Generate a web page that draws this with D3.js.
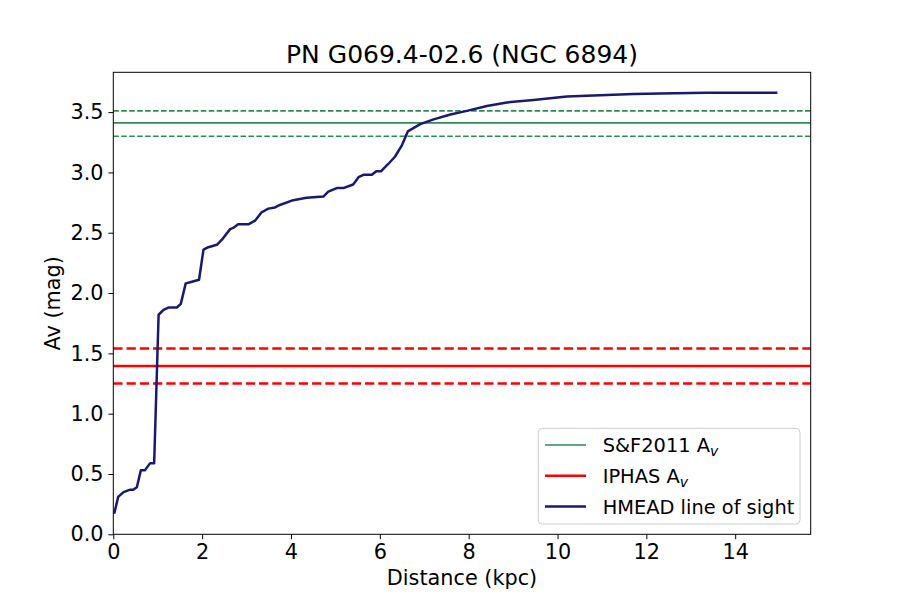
<!DOCTYPE html>
<html>
<head>
<meta charset="utf-8">
<script src="https://cdn.jsdelivr.net/npm/d3@7"></script>
<style>
  body { margin: 0; background: #fff; }
  svg { font-family: "DejaVu Sans", sans-serif; }
</style>
</head>
<body>
<div id="main-container"></div>
<script>
// HMEAD line of sight (distance in kpc, Av in mag)
var distance = [0.02, 0.11, 0.23, 0.38, 0.45, 0.53, 0.62, 0.71, 0.83, 0.92,
                1.02, 1.13, 1.24, 1.43, 1.52, 1.63, 1.73, 1.93, 2.03, 2.14,
                2.33, 2.44, 2.63, 2.70, 2.81, 3.04, 3.19, 3.34, 3.49, 3.64,
                3.75, 4.05, 4.35, 4.73, 4.84, 5.03, 5.18, 5.40, 5.52, 5.63,
                5.82, 5.92, 6.03, 6.19, 6.34, 6.49, 6.63, 6.91, 7.21, 7.59,
                7.96, 8.41, 8.86, 9.46, 10.21, 10.96, 11.71, 12.30, 13.36, 14.95];
var av = [0.17, 0.31, 0.35, 0.37, 0.37, 0.39, 0.53, 0.53, 0.59, 0.59,
          1.82, 1.86, 1.88, 1.88, 1.91, 2.08, 2.09, 2.11, 2.36, 2.38,
          2.40, 2.44, 2.53, 2.54, 2.57, 2.57, 2.60, 2.67, 2.70, 2.71,
          2.73, 2.77, 2.79, 2.80, 2.84, 2.87, 2.87, 2.90, 2.96, 2.98,
          2.98, 3.01, 3.01, 3.07, 3.13, 3.22, 3.34, 3.40, 3.44, 3.48,
          3.51, 3.55, 3.58, 3.60, 3.63, 3.64, 3.65, 3.655, 3.66, 3.66];

// horizontal reference levels: [value, lower, upper]
var sfAv = [3.41, 3.30, 3.51];
var iphasAv = [1.395, 1.25, 1.54];

var xTicks = [0, 2, 4, 6, 8, 10, 12, 14];
var yTicks = [0.0, 0.5, 1.0, 1.5, 2.0, 2.5, 3.0, 3.5];

var legendLabels = [
  { name: "S&F2011 A", sub: "v", color: "#2e8b57", width: 1.5 },
  { name: "IPHAS A", sub: "v", color: "#ff0000", width: 2.5 },
  { name: "HMEAD line of sight", sub: "", color: "#191970", width: 2.5 }
];

var width = 900, height = 600;
var margin = { left: 113.3, right: 89.3, top: 72.3, bottom: 65.7 };

var svg = d3.select("#main-container")
  .append("svg")
  .attr("width", width)
  .attr("height", height);

var x = d3.scaleLinear().domain([0, 15.7]).range([margin.left, width - margin.right]);
var y = d3.scaleLinear().domain([0, 3.83]).range([height - margin.bottom, margin.top]);

var plot = svg.append("g");

// S&F2011 lines (green)
plot.selectAll("line.sf")
  .data(sfAv)
  .enter()
  .append("line")
  .attr("class", "sf")
  .attr("x1", x(0))
  .attr("x2", x(15.7))
  .attr("y1", function(d) { return y(d); })
  .attr("y2", function(d) { return y(d); })
  .attr("stroke", "#2e8b57")
  .attr("stroke-width", 1.7)
  .attr("stroke-dasharray", function(d, i) { return i === 0 ? null : "5.55,2.4"; });

// IPHAS lines (red)
plot.selectAll("line.iphas")
  .data(iphasAv)
  .enter()
  .append("line")
  .attr("class", "iphas")
  .attr("x1", x(0))
  .attr("x2", x(15.7))
  .attr("y1", function(d) { return y(d); })
  .attr("y2", function(d) { return y(d); })
  .attr("stroke", "#ff0000")
  .attr("stroke-width", 2.5)
  .attr("stroke-dasharray", function(d, i) { return i === 0 ? null : "9.25,4"; });

// HMEAD line of sight
var line = d3.line()
  .x(function(d, i) { return x(distance[i]); })
  .y(function(d) { return y(d); });

plot.append("path")
  .datum(av)
  .attr("d", line)
  .attr("fill", "none")
  .attr("stroke", "#191970")
  .attr("stroke-width", 2.5)
  .attr("stroke-linejoin", "round");

// axes
var xAxis = svg.append("g")
  .attr("transform", "translate(0," + (height - margin.bottom) + ")")
  .call(d3.axisBottom(x).tickValues(xTicks).tickFormat(d3.format("d")).tickSizeOuter(0).tickSize(4.9).tickPadding(4.9));

var yAxis = svg.append("g")
  .attr("transform", "translate(" + margin.left + ",0)")
  .call(d3.axisLeft(y).tickValues(yTicks).tickFormat(d3.format(".1f")).tickSizeOuter(0).tickSize(4.9).tickPadding(4.9));

[xAxis, yAxis].forEach(function(a) {
  a.selectAll("text").attr("font-size", "20.8px").attr("font-family", "DejaVu Sans").attr("fill", "#000");
  a.selectAll("line").attr("stroke", "#000").attr("stroke-width", 1);
  a.select(".domain").remove();
});

// frame
svg.append("rect")
  .attr("x", margin.left)
  .attr("y", margin.top)
  .attr("width", width - margin.left - margin.right)
  .attr("height", height - margin.top - margin.bottom)
  .attr("fill", "none")
  .attr("stroke", "#000")
  .attr("stroke-width", 1);

// title and labels
svg.append("text")
  .attr("x", (margin.left + width - margin.right) / 2)
  .attr("y", 63)
  .attr("text-anchor", "middle")
  .attr("font-size", "25px")
  .text("PN G069.4-02.6 (NGC 6894)");

svg.append("text")
  .attr("x", (margin.left + width - margin.right) / 2)
  .attr("y", 585)
  .attr("text-anchor", "middle")
  .attr("font-size", "20.8px")
  .text("Distance (kpc)");

svg.append("text")
  .attr("transform", "translate(60," + ((margin.top + height - margin.bottom) / 2) + ") rotate(-90)")
  .attr("text-anchor", "middle")
  .attr("font-size", "20.8px")
  .text("Av (mag)");

// legend
var legend = svg.append("g").attr("transform", "translate(538.3,428.3)");
legend.append("rect")
  .attr("width", 261.7)
  .attr("height", 95.7)
  .attr("rx", 4)
  .attr("fill", "#fff")
  .attr("fill-opacity", 0.8)
  .attr("stroke", "#cccccc")
  .attr("stroke-width", 1);

var rows = legend.selectAll("g.row")
  .data(legendLabels)
  .enter()
  .append("g")
  .attr("class", "row")
  .attr("transform", function(d, i) { return "translate(0," + (16.7 + i * 30.8) + ")"; });

rows.append("line")
  .attr("x1", 6.7)
  .attr("x2", 47.7)
  .attr("stroke", function(d) { return d.color; })
  .attr("stroke-width", function(d) { return d.width; });

var labels = rows.append("text")
  .attr("x", 64.4)
  .attr("y", 7)
  .attr("font-size", "19.4px");
labels.append("tspan").text(function(d) { return d.name; });
labels.append("tspan")
  .attr("font-style", "italic")
  .attr("font-size", "14px")
  .attr("dy", 4)
  .text(function(d) { return d.sub; });
</script>
</body>
</html>
